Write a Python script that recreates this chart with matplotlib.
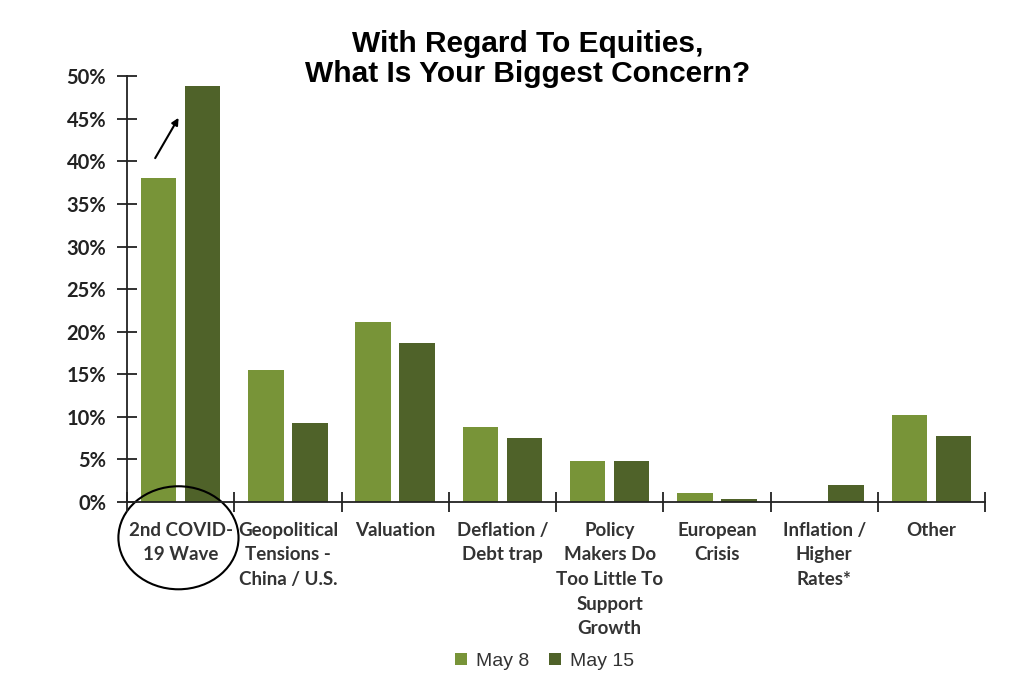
import numpy as np
import matplotlib
matplotlib.use('Agg')
import matplotlib.pyplot as plt
from matplotlib.patches import Ellipse
from matplotlib.ticker import PercentFormatter

# survey answers, share of respondents
categories = ['2nd COVID-\n19 Wave', 'Geopolitical\nTensions -\nChina / U.S.', 'Valuation',
              'Deflation /\nDebt trap', 'Policy\nMakers Do\nToo Little To\nSupport\nGrowth',
              'European\nCrisis', 'Inflation /\nHigher\nRates*', 'Other']
may8 = [38.0, 15.5, 21.1, 8.8, 4.8, 1.1, 0.0, 10.2]
may15 = [48.8, 9.3, 18.7, 7.5, 4.8, 0.4, 2.0, 7.7]
series_names = ['May 8', 'May 15']

light = '#789438'
dark = '#4f6229'

fig = plt.figure(figsize=(10.24, 6.93), dpi=100)
ax = fig.add_axes([0.124, 0.2756, 0.838, 0.6144])

x = np.arange(len(categories))
ax.bar(x - 0.205, may8, width=0.33, color=light, label=series_names[0])
ax.bar(x + 0.205, may15, width=0.33, color=dark, label=series_names[1])

ax.set_xlim(-0.5, len(categories) - 0.5)
ax.set_ylim(0, 50)
ax.yaxis.set_major_formatter(PercentFormatter(decimals=0))
ax.set_yticks(np.arange(0, 51, 5))

for s in ['top', 'right']:
    ax.spines[s].set_visible(False)
for s in ['left', 'bottom']:
    ax.spines[s].set_color('#222222')
    ax.spines[s].set_linewidth(1.3)

ax.tick_params(axis='y', direction='inout', length=14, width=1.3, color='#222222', pad=8)
ax.set_xticks(np.arange(-0.5, len(categories), 1))
ax.set_xticklabels([])
ax.tick_params(axis='x', direction='inout', length=14, width=1.3, color='#222222')
for lab in ax.get_yticklabels():
    lab.set_fontfamily(['Lato', 'DejaVu Sans'])
    lab.set_fontweight('bold')
    lab.set_fontsize(14.5)
    lab.set_color('#222222')

# category labels under each group
for i, c in enumerate(categories):
    ax.text(i, -2.3, c, ha='center', va='top', fontsize=13.5, fontweight='bold',
            family=['Lato', 'DejaVu Sans'], color='#333333', linespacing=1.55)

fig.text(0.515, 0.957, 'With Regard To Equities,\nWhat Is Your Biggest Concern?', ha='center', va='top',
         fontsize=21.5, fontweight='bold', family=['Liberation Sans', 'DejaVu Sans'], linespacing=1.12)

# highlight of the first category
ax.add_patch(Ellipse((-0.02, -4.2), 1.12, 12.1, fill=False, edgecolor='black', lw=1.5, clip_on=False))
ax.annotate('', xy=(-0.006, 45.4), xytext=(-0.25, 40.1),
            arrowprops=dict(arrowstyle='-|>', color='black', lw=1.5, mutation_scale=10))

leg = fig.legend(loc='center', bbox_to_anchor=(0.532, 0.046), ncol=2, frameon=False,
                 handlelength=0.6, handleheight=0.6, handletextpad=0.5, columnspacing=1.0,
                 prop={'family': ['Liberation Sans Narrow', 'Liberation Sans', 'DejaVu Sans'], 'size': 14})
for t in leg.get_texts():
    t.set_color('#333333')

fig.savefig('out.png', dpi=100)
